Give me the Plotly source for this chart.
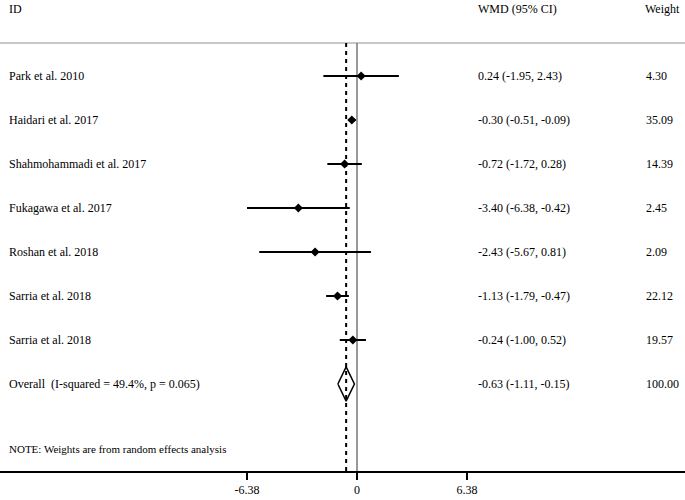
import plotly.graph_objects as go

studies = ["Park et al. 2010", "Haidari et al. 2017", "Shahmohammadi et al. 2017",
           "Fukagawa et al. 2017", "Roshan et al. 2018", "Sarria et al. 2018", "Sarria et al. 2018"]
wmd = [0.24, -0.30, -0.72, -3.40, -2.43, -1.13, -0.24]
ci_low = [-1.95, -0.51, -1.72, -6.38, -5.67, -1.79, -1.00]
ci_high = [2.43, -0.09, 0.28, -0.42, 0.81, -0.47, 0.52]
weights = [4.30, 35.09, 14.39, 2.45, 2.09, 22.12, 19.57]
overall_label = "Overall  (I-squared = 49.4%, p = 0.065)"
overall_est = -0.63
overall_low = -1.11
overall_high = -0.15
overall_weight = 100.00
note = "NOTE: Weights are from random effects analysis"
tick_vals = [-6.38, 0, 6.38]
tick_text = ["-6.38", "0", "6.38"]

FONT = "Liberation Serif"
W, H = 685, 500
n = len(studies)
rows = list(range(n))
overall_row = n

fig = go.Figure()

# CI lines
for i in rows:
    fig.add_trace(go.Scatter(x=[ci_low[i], ci_high[i]], y=[i, i], mode="lines",
                             line=dict(color="black", width=2), showlegend=False,
                             hoverinfo="skip"))
# point estimates
fig.add_trace(go.Scatter(x=wmd, y=rows, mode="markers",
                         marker=dict(symbol="diamond", size=7, color="black"),
                         showlegend=False))

# overall diamond
h = 0.39
fig.add_trace(go.Scatter(x=[overall_low, overall_est, overall_high, overall_est, overall_low],
                         y=[overall_row, overall_row - h, overall_row, overall_row + h, overall_row],
                         mode="lines", line=dict(color="black", width=1.5),
                         showlegend=False))

top_line_y = -0.75
shapes = [
    dict(type="line", xref="paper", yref="y", x0=0, x1=1, y0=top_line_y, y1=top_line_y,
         line=dict(color="#c8c8c8", width=2), layer="below"),
    dict(type="line", xref="x", yref="y", x0=0, x1=0, y0=top_line_y, y1=9.2,
         line=dict(color="#777777", width=1.5), layer="below"),
    dict(type="line", xref="x", yref="y", x0=overall_est, x1=overall_est, y0=top_line_y, y1=9.2,
         line=dict(color="black", width=2, dash="4px,4px"), layer="below"),
]

ann = []
def txt(xpx, y, s, size=12):
    ann.append(dict(x=xpx / W, xref="paper", y=y, yref="y", text=s, showarrow=False,
                    xanchor="left", yanchor="middle",
                    font=dict(family=FONT, size=size, color="black")))

header_y = -1.53
txt(7, header_y, "ID")
txt(476, header_y, "WMD (95% CI)")
txt(643, header_y, "Weight")
for i in rows:
    txt(7, i, studies[i])
    txt(476, i, f"{wmd[i]:.2f} ({ci_low[i]:.2f}, {ci_high[i]:.2f})")
    txt(644, i, f"{weights[i]:.2f}")
txt(7, overall_row, overall_label)
txt(476, overall_row, f"{overall_est:.2f} ({overall_low:.2f}, {overall_high:.2f})")
txt(644, overall_row, f"{overall_weight:.2f}")
txt(7, 8.48, note, size=11)

px_per_unit = 110 / 6.38
x0px = 357
b = 29
fig.update_layout(
    width=W, height=H,
    margin=dict(l=0, r=0, t=0, b=b, pad=0),
    paper_bgcolor="white", plot_bgcolor="white",
    shapes=shapes, annotations=ann,
    xaxis=dict(range=[(0 - x0px) / px_per_unit, (W - x0px) / px_per_unit],
               tickvals=tick_vals, ticktext=tick_text, ticks="outside", ticklen=7,
               tickwidth=1.5, tickcolor="black", showline=True, linecolor="black",
               linewidth=2, showgrid=False, zeroline=False, fixedrange=True,
               tickfont=dict(family=FONT, size=12, color="black")),
    yaxis=dict(range=[(H - b - 76) / 44, -76 / 44], visible=False, showgrid=False,
               zeroline=False, fixedrange=True),
)

fig.write_html("out.html",
               config={"displayModeBar": False},
               post_script="document.body.style.margin='0';document.body.style.overflow='hidden';")
